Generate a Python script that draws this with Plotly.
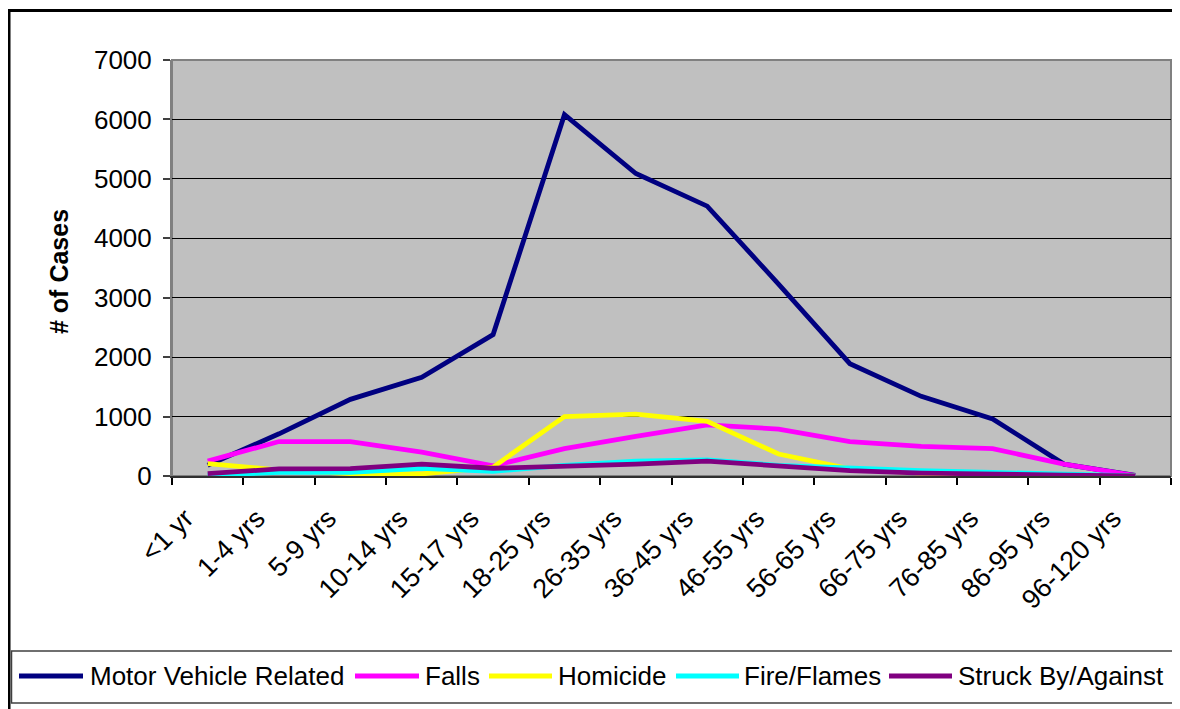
import plotly.graph_objects as go

categories = ["<1 yr", "1-4 yrs", "5-9 yrs", "10-14 yrs", "15-17 yrs", "18-25 yrs",
              "26-35 yrs", "36-45 yrs", "46-55 yrs", "56-65 yrs", "66-75 yrs",
              "76-85 yrs", "86-95 yrs", "96-120 yrs"]
motor_vehicle = [180, 710, 1290, 1660, 2380, 6080, 5090, 4540, 3230, 1890, 1340, 960, 200, 10]
falls = [250, 580, 580, 400, 170, 460, 665, 860, 790, 580, 500, 460, 200, 5]
homicide = [210, 100, 40, 35, 150, 1000, 1040, 920, 370, 120, 50, 20, 10, 0]
fire_flames = [15, 60, 60, 130, 80, 180, 250, 270, 180, 130, 90, 60, 20, 0]
struck_by = [40, 120, 125, 200, 130, 160, 200, 250, 160, 90, 50, 25, 15, 0]

series_names = ["Motor Vehicle Related", "Falls", "Homicide", "Fire/Flames", "Struck By/Against"]
series_values = [motor_vehicle, falls, homicide, fire_flames, struck_by]
series_colors = ["#000080", "#FF00FF", "#FFFF00", "#00FFFF", "#800080"]

y_ticks = [0, 1000, 2000, 3000, 4000, 5000, 6000, 7000]

# page body has an 8px margin; the figure is sized/positioned to compensate
OFF = 8
W, H = 1180 - OFF, 709 - OFF
PL, PR, PT, PB = 172, 1171, 60, 476   # plot area in screen pixels
FONT = "Arial, Liberation Sans, sans-serif"


def px(x):
    return (x - PL) / (PR - PL)


def py(y):
    return (PB - y) / (PB - PT)


fig = go.Figure()
for name, vals, col in zip(series_names, series_values, series_colors):
    fig.add_trace(go.Scatter(x=categories, y=vals, mode="lines", name=name,
                             line=dict(color=col, width=4.8), showlegend=False))

shapes = []
# outer chart border
shapes.append(dict(type="rect", xref="paper", yref="paper",
                   x0=px(9), x1=px(1210), y0=py(10.5), y1=py(740),
                   line=dict(color="black", width=3), layer="below"))
# plot area border
shapes.append(dict(type="rect", xref="paper", yref="paper",
                   x0=0, x1=1, y0=0, y1=1,
                   line=dict(color="#808080", width=2), layer="below"))
# legend box
shapes.append(dict(type="rect", xref="paper", yref="paper",
                   x0=px(11.5), x1=px(1210), y0=py(651), y1=py(703),
                   line=dict(color="#404040", width=1.5), layer="above"))

legend_line_x = [(19, 83), (355, 419), (489, 552), (676, 739), (889, 952)]
legend_text_x = [88, 423, 556, 742, 956]
annotations = []
ly = 676
for (x0, x1), tx, name, col in zip(legend_line_x, legend_text_x, series_names, series_colors):
    shapes.append(dict(type="line", xref="paper", yref="paper",
                       x0=px(x0), x1=px(x1), y0=py(ly), y1=py(ly),
                       line=dict(color=col, width=4.8), layer="above"))
    annotations.append(dict(xref="paper", yref="paper", x=px(tx), y=py(ly),
                            text=name, showarrow=False, xanchor="left", yanchor="middle",
                            font=dict(family=FONT, size=26, color="black")))

annotations.append(dict(xref="paper", yref="paper", x=px(59), y=py(272),
                        text="<b># of Cases</b>", showarrow=False, textangle=-90,
                        xanchor="center", yanchor="middle",
                        font=dict(family=FONT, size=25, color="black")))

fig.update_layout(
    width=W, height=H,
    margin=dict(l=PL - OFF, r=W - (PR - OFF), t=PT - OFF, b=H - (PB - OFF), pad=0),
    paper_bgcolor="white",
    plot_bgcolor="#C0C0C0",
    showlegend=False,
    shapes=shapes,
    annotations=annotations,
    font=dict(family=FONT, size=25, color="black"),
)
fig.update_xaxes(
    type="category", range=[-0.5, len(categories) - 0.5],
    tickson="boundaries", ticks="outside", ticklen=7, tickcolor="black", tickwidth=1.5,
    showline=True, linecolor="#303030", linewidth=1.5,
    showgrid=False, zeroline=False,
    tickangle=-45, tickfont=dict(family=FONT, size=27, color="black"),
    ticklabelstandoff=14, ticklabelshift=-22,
)
fig.update_yaxes(
    range=[0, 7000], tickvals=y_ticks, ticktext=[str(v) for v in y_ticks],
    ticks="outside", ticklen=7, tickcolor="#404040", tickwidth=1.5,
    showline=True, linecolor="#808080", linewidth=2,
    showgrid=True, gridcolor="black", gridwidth=1, zeroline=False,
    tickfont=dict(family=FONT, size=26, color="black"),
    ticklabelstandoff=6,
)

fig.write_html("out.html")
